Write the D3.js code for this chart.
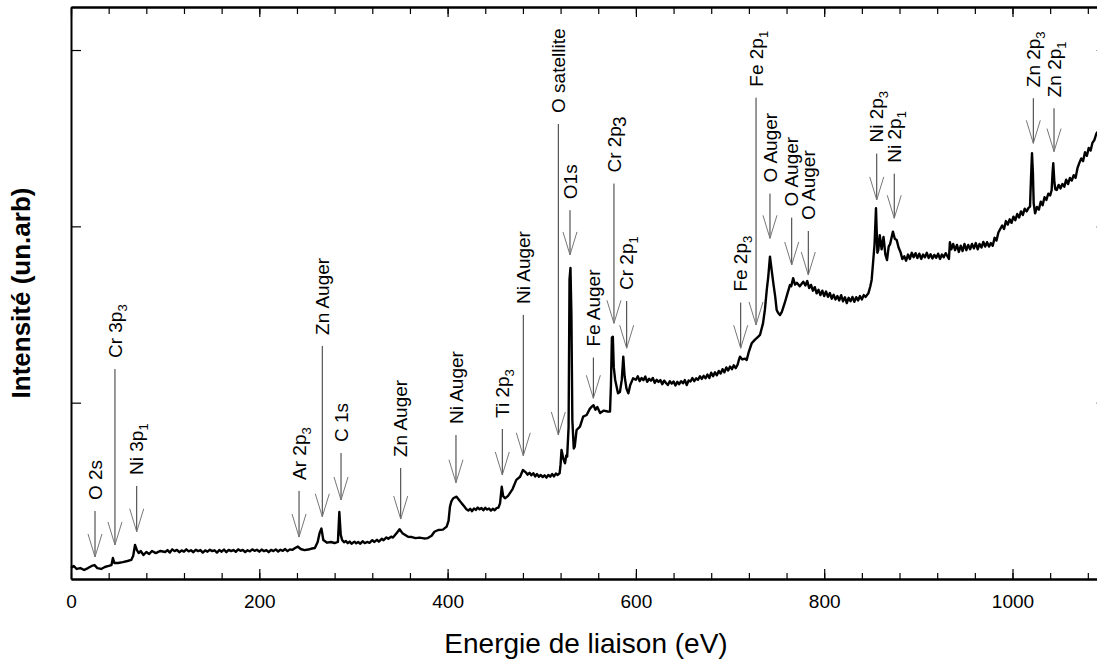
<!DOCTYPE html>
<html><head><meta charset="utf-8">
<script src="https://cdn.jsdelivr.net/npm/d3@7"></script>
<style>body{margin:0;overflow:hidden;background:#fff}</style>
</head><body>
<svg id="c" width="1097" height="664"></svg>
<script>
// XPS survey spectrum: [binding energy (eV), intensity (arb. units)]
const spectrum = [
[0,62],[3,74],[6,57],[10,62],[14,51],[18,62],[22,74],[25,79],[28,62],[32,57],[36,68],[40,74],[43,79],[44.5,119],[46,91],[50,91],[55,96],[60,102],[64,108],[66,130],[68,193],[70,164],[72,147],[74,159],[77,136],[80,153],[83,142],[86,159],[90,147],[95,159],
[100,153],[102.5,164],[105,150],[107.5,168],[110,158],[112.5,165],[115,152],[117.5,162],[120,155],[122.5,168],[125,157],[127.5,163],[130,152],[132.5,166],[135,158],[137.5,164],[140,150],[142.5,162],[145,155],[147.5,166],[150,158],[152.5,163],[155,150],[157.5,164],[160,155],[162.5,167],[165,152],[167.5,165],[170,158],[172.5,164],[175,154],[177.5,168],[180,160],[182.5,165],[185,152],[187.5,163],[190,157],[192.5,168],[195,160],[197.5,166],[200,155],[202.5,167],[205,158],[207.5,164],[210,152],[212.5,165],[215,158],[217.5,168],[220,156],[222.5,166],[225,160],[227.5,170],[230,158],[232.5,168],[235,165],
[238,176],[241,184],[244,170],[248,164],[252,167],[256,173],[259,176],[262,210],[264,260],[266,286],[268,221],[272,206],[276,210],[280,204],[283.5,210],[285,380],[286.5,250],
[288,221],[290,208],[292,215],[294,203],[296,212],[298,200],[301,212],[303,202],[305,210],[307,200],[310,214],[312,204],[315,210],[317,205],[320,220],[322,210],[325,222],[327,212],[330,228],[332,220],[335,236],[337,228],[340,240],[342,235],[344,248],
[347,268],[349,282],[352,260],[355,250],[358,240],[362,238],[366,232],[370,235],[375,230],[379,232],[383,245],[386,268],[390,278],[395,280],[399,297],[401,330],[402.5,410],[404,440],[406,458],[409.5,467],[412,450],[415,429],
[418,410],[420,395],[422,388],[424,398],[426,385],[428,400],[430,392],[432,405],[434,395],[436,402],[438,390],[440,404],[442,394],[444,400],[446,388],[448,398],[450,390],[452,402],[454,405],[455.7,429],
[457.5,523],[459,470],[461,458],[464,470],[466,486],[469,510],[473,562],[477,580],[480,618],
[483,605],[485,592],[487,602],[489,588],[491,600],[493,582],[495,595],[497,580],[499,590],[501,578],[503,588],[505,575],[507,590],[509,580],[511,595],[513,582],[515,598],[517,590],[519,600],
[520,650],[521,732],[523,680],[524.7,656],[526,700],[527,694],[528.5,860],[529.5,1700],[530.5,1764],[531.5,1500],[532.5,900],[534,740],[535,750],[537,845],[540.6,864],[544,921],[547.7,930],[551,965],[553,977],[555,985],[557,960],[559,975],[562,941],[566,955],[570,950],[572.5,949],[573.5,1100],[574.5,1370],[575.5,1374],[576.5,1200],[578,1129],[581,1053],[583,1060],[585,1129],[586.6,1261],[588,1150],[590,1080],[592,1053],[594,1100],[597,1138],
[600,1130],[602,1150],[604,1122],[606,1140],[608,1128],[610,1148],[612,1118],[614,1135],[616,1125],[618,1140],[620,1112],[622,1130],[624,1118],[626,1128],[628,1105],[630,1125],[632,1112],[634,1100],[636,1122],[638,1108],[640,1120],[642,1098],[644,1118],[646,1105],[648,1122],[650,1110],[652,1128],[654,1100],[656,1126],[658,1120],[660,1140],[662,1122],[664,1138],[666,1130],[668,1150],[670,1135],[672,1152],[674,1138],[676,1160],[678,1140],[680,1170],[682,1150],[684,1172],[686,1155],[688,1180],[690,1165],[692,1190],[694,1172],[696,1200],[698,1182],[700,1205],[702,1190],[704,1212],[706,1196],[708,1215],
[709.5,1245],[710.6,1261],[713,1245],[716,1250],[717.7,1242],[720,1290],[723,1337],[726,1355],[728,1365],[730,1375],[731.8,1384],[735,1450],[737,1526],[739,1640],[740.6,1715],[742.4,1828],[744,1760],[746,1677],[748,1600],[749.5,1526],[751,1510],[753,1497],[755,1515],[758,1564],[761,1620],[763.7,1668],[765,1660],[767,1706],[769,1670],[771,1680],[774,1660],[777.8,1686],
[780,1665],[782,1690],[784,1650],[786,1668],[788,1635],[790,1655],[792,1620],[794,1640],[796,1610],[798,1635],[800,1605],[802,1630],[804,1600],[806,1622],[808,1590],[810,1612],[812,1585],[814,1605],[816,1580],[818,1610],[820,1575],[822,1598],[824,1565],[826,1595],[828,1575],[830,1600],[832,1572],[834,1598],[836,1580],[838,1605],[840,1585],[842,1610],[844,1600],[846.9,1620],
[849,1660],[850.4,1696],[852,1800],[853.5,1900],[855,2103],[856.5,1850],[857.5,1866],[859,1950],[861,1870],[863,1940],[865,1840],[866.7,1809],[868.5,1885],[870,1900],[873,1970],[875,1930],[877,1923],[879,1880],
[881,1855],[883,1815],[885,1830],[887,1805],[889,1840],[891,1815],[893,1850],[895,1825],[897,1848],[899,1820],[901,1845],[903,1815],[905,1840],[907,1825],[909,1850],[911,1820],[913,1842],[915,1818],[917,1838],[919,1822],[921,1845],[923,1815],[925,1840],[927,1825],[929,1848],[931,1830],[932.5,1815],[933.5,1910],[935,1870],[937,1900],[939,1865],[941,1895],[943,1855],[945,1890],[947,1860],[949,1900],[951,1865],[953,1895],[955,1870],[957,1900],[959,1875],[961,1905],[963,1870],[965,1900],[967,1880],[969,1912],[971,1885],[973,1910],[975,1885],[977,1905],[979,1890],[981,1935],[983,1920],[985,1965],[987,1985],[989,2005],[991,1985],[993,2030],[995,2010],[997,2040],[999,2020],[1001,2055],[1003,2035],[1005,2070],[1007,2050],[1009,2085],[1011,2065],[1013,2100],[1015,2085],[1017,2105],[1018.6,2112],
[1019.5,2250],[1020.7,2415],[1021.7,2300],[1022.5,2130],[1024,2074],[1026,2110],[1028,2095],[1030,2140],[1032,2120],[1034,2165],[1036,2150],[1038,2185],[1040,2175],[1041.6,2206],[1042.5,2300],[1043.3,2358],[1044.5,2250],[1045.5,2210],
[1047,2206],[1049,2235],[1051,2215],[1053,2240],[1055,2225],[1057,2265],[1059,2240],[1061,2275],[1063,2260],[1065,2290],[1067,2275],[1069,2330],[1071,2360],[1073,2385],[1075,2370],[1077,2420],[1079,2400],[1081,2445],[1083,2430],[1085,2475],[1087,2490],[1089,2525],[1091,2540],[1093,2560],[1095,2580],[1100,2620]
];

// Peak annotations
const peakNames = ["O 2s","Cr 3p","Ni 3p","Ar 2p","Zn Auger","C 1s","Zn Auger","Ni Auger","Ti 2p","Ni Auger","O satellite","O1s","Fe Auger","Cr 2p","Cr 2p","Fe 2p","Fe 2p","O Auger","O Auger","O Auger","Ni 2p","Ni 2p","Zn 2p","Zn 2p"];
const peakSubs = ["","3","1","3","","","","","3","","","","","3","1","3","1","","","","3","1","3","1"];
const peakEnergy = [25.5,46.7,69.8,242.2,266.9,286.8,350.2,408.9,458.1,480.4,517.6,530,554.8,576.7,590.2,711.3,727.6,742.4,765.5,783.1,855.8,874.4,1022.1,1044.1];
const arrowTip = [125,193,268,238,353,448,340,546,590,699,817,1838,1025,1450,1309,1309,1441,1932,1781,1724,2150,2046,2471,2424];
const labelLevel = [448,1253,590,562,1384,777,692,879,913,1560,2643,2154,1318,2305,1639,1630,2792,2248,2112,2036,2475,2361,2789,2732];
const fullSizeSub = ["Cr 2p3"];

const xMajorTicks = [0,200,400,600,800,1000];
const xMinorTicks = d3.range(0,1101,40);
const yTicks = [1000,2000,3000];
const xTitle = "Energie de liaison (eV)";
const yTitle = "Intensité (un.arb)";

const svg = d3.select("#c");
const FONT = "'Liberation Sans', Arial, sans-serif";
const x = d3.scaleLinear().domain([0,1100]).range([71,1106.65]);
const y = d3.scaleLinear().domain([0,3244]).range([579,7]);

function styleAxis(g){
  g.select(".domain").attr("stroke","#000").attr("stroke-width",2);
  g.selectAll(".tick line").attr("stroke","#000").attr("stroke-width",1.2);
}

svg.append("g").attr("transform","translate(0,579)")
  .call(d3.axisBottom(x).tickValues(xMinorTicks).tickSizeInner(-6).tickSizeOuter(0).tickFormat(""))
  .call(styleAxis);
const bx = svg.append("g").attr("transform","translate(0,579)")
  .call(d3.axisBottom(x).tickValues(xMajorTicks).tickSizeInner(-10).tickSizeOuter(0).tickPadding(15.5).tickFormat(d3.format("d")))
  .call(styleAxis);
bx.selectAll("text").attr("font-family",FONT).attr("font-size",19).attr("fill","#000");
svg.append("g").attr("transform","translate(0,7)")
  .call(d3.axisTop(x).tickValues(xMinorTicks).tickSizeInner(-7).tickSizeOuter(0).tickFormat(""))
  .call(styleAxis);
svg.append("g").attr("transform","translate(0,7)")
  .call(d3.axisTop(x).tickValues(xMajorTicks).tickSizeInner(-10).tickSizeOuter(0).tickFormat(""))
  .call(styleAxis);
svg.append("g").attr("transform","translate(71,0)")
  .call(d3.axisLeft(y).tickValues(yTicks).tickSizeInner(-10).tickSizeOuter(0).tickFormat(""))
  .call(styleAxis);
svg.append("g").attr("transform","translate(1106.65,0)")
  .call(d3.axisRight(y).tickValues(yTicks).tickSizeInner(-10).tickSizeOuter(0).tickFormat(""))
  .call(styleAxis);

svg.append("path").datum(spectrum)
  .attr("fill","none").attr("stroke","#000").attr("stroke-width",2.4).attr("stroke-linejoin","round")
  .attr("d", d3.line().x(d=>x(d[0])).y(d=>y(d[1])));

const ann = svg.append("g");
peakNames.forEach((name,i)=>{
  const X = x(peakEnergy[i]), tip = y(arrowTip[i]), tb = y(labelLevel[i]);
  ann.append("line").attr("x1",X).attr("x2",X).attr("y1",tb+11).attr("y2",tip)
    .attr("stroke","#333").attr("stroke-width",1);
  ann.append("path").attr("d",`M${X-7},${tip-23}L${X},${tip}L${X+7},${tip-23}`)
    .attr("fill","none").attr("stroke","#777").attr("stroke-width",1);
  const t = ann.append("text").attr("transform",`translate(${X},${tb}) rotate(-90)`)
    .attr("font-family",FONT).attr("font-size",19).attr("dy","0.35em").attr("fill","#000");
  t.append("tspan").text(name);
  if(peakSubs[i]){
    const big = fullSizeSub.includes(name+peakSubs[i]);
    t.append("tspan").attr("font-size",big?19:13).attr("dx",big?-1:0).attr("dy",big?5:5).text(peakSubs[i]);
  }
});

svg.append("text").attr("x",586).attr("y",653).attr("text-anchor","middle")
  .attr("font-family",FONT).attr("font-size",28).text(xTitle);
svg.append("text").attr("transform","translate(29.5,293) rotate(-90)").attr("text-anchor","middle")
  .attr("font-family",FONT).attr("font-size",26).attr("font-weight","bold").text(yTitle);
</script>
</body></html>
